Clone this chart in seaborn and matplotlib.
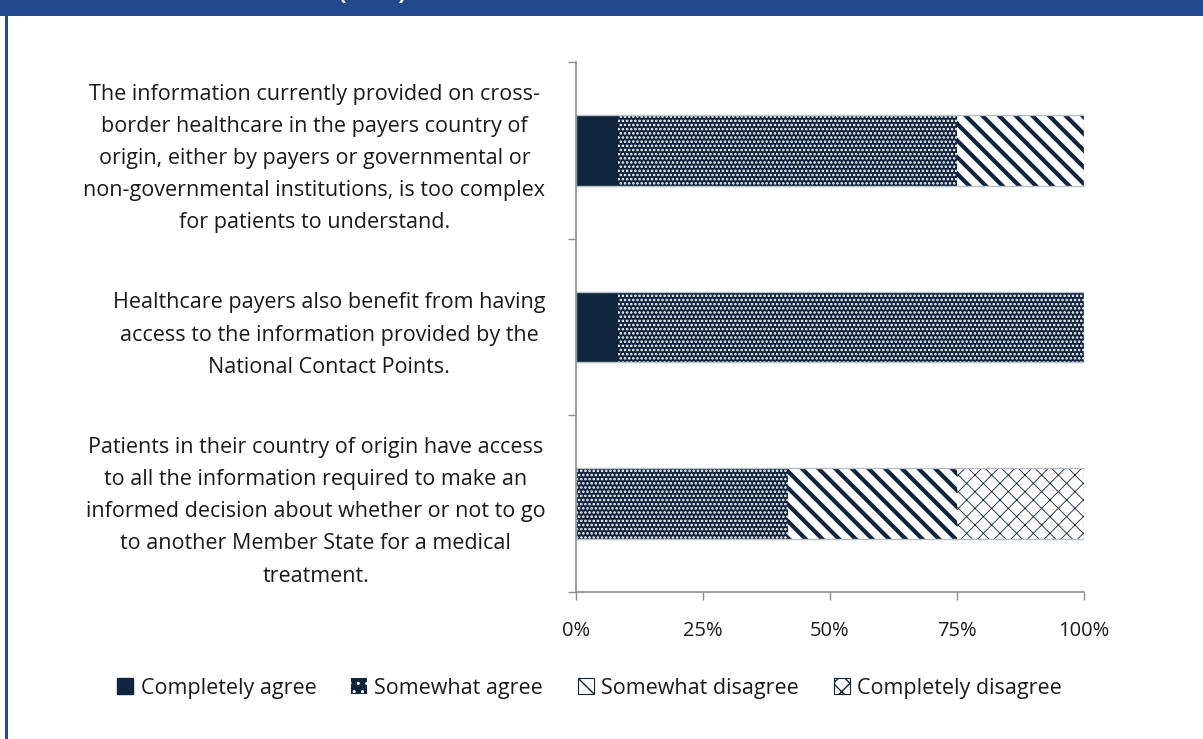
import matplotlib
matplotlib.use('Agg')
import matplotlib.pyplot as plt
from matplotlib.patches import Patch, Rectangle
import seaborn as sns
import pandas as pd

# --- data (shares of respondents, %) ---
statements = [
    "The information currently provided on cross-\nborder healthcare in the payers country of\n"
    "origin, either by payers or governmental or\nnon-governmental institutions, is too complex\n"
    "for patients to understand.",
    "Healthcare payers also benefit from having\naccess to the information provided by the\n"
    "National Contact Points.",
    "Patients in their country of origin have access\nto all the information required to make an\n"
    "informed decision about whether or not to go\nto another Member State for a medical\ntreatment.",
]
answers = ["Completely agree", "Somewhat agree", "Somewhat disagree", "Completely disagree"]
completely_agree = [8.33, 8.33, 0.0]
somewhat_agree = [66.67, 91.67, 41.67]
somewhat_disagree = [25.0, 0.0, 33.33]
completely_disagree = [0.0, 0.0, 25.0]
xticks = [0, 25, 50, 75, 100]

NAVY = '#10243E'
BLUE = '#234A8E'
GREY = '#8C8C8C'
TXT = '#1a1a1a'

df = pd.DataFrame({
    'statement': statements,
    answers[0]: completely_agree,
    answers[1]: somewhat_agree,
    answers[2]: somewhat_disagree,
    answers[3]: completely_disagree,
})
# cumulative ends, drawn back to front
cum = df[answers].cumsum(axis=1)

sns.set_style('white')
plt.rcParams['font.family'] = ['Open Sans', 'DejaVu Sans']

fig = plt.figure(figsize=(12.03, 7.39), dpi=100)
ax = fig.add_axes([0.4788, 0.1989, 0.9011 - 0.4788, 0.9161 - 0.1989])

# (face, hatch, hatch colour, hatch lw) per answer
styles = {
    answers[0]: (NAVY, None, NAVY, 1.0),
    answers[1]: (NAVY, '....', 'white', 1.2),
    answers[2]: ('white', '\\\\', NAVY, 3.0),
    answers[3]: ('white', 'xx', NAVY, 0.6),
}


def draw_layer(values, face, hatch, hcolor, fill=True):
    n0 = len(ax.patches)
    sns.barplot(x=values, y=df['statement'], orient='h', width=0.4, ax=ax,
                color=NAVY, saturation=1)
    for p in ax.patches[n0:]:
        p.set_fill(fill)
        p.set_facecolor(face)
        p.set_edgecolor(hcolor)
        p.set_linewidth(0)
        if hatch:
            p.set_hatch(hatch)


for ans in reversed(answers):
    face, hatch, hcolor, hlw = styles[ans]
    plt.rcParams['hatch.linewidth'] = hlw
    if ans == answers[1]:
        # navy base, then white dot pattern on top
        draw_layer(cum[ans], NAVY, None, NAVY)
        draw_layer(cum[ans], 'none', hatch, 'white', fill=False)
    else:
        draw_layer(cum[ans], face, hatch, hcolor)

# light outline round each full bar
n0 = len(ax.patches)
sns.barplot(x=cum[answers[-1]], y=df['statement'], orient='h', width=0.4, ax=ax,
            color='white', saturation=1)
for p in ax.patches[n0:]:
    p.set_fill(False)
    p.set_edgecolor('#B8C0CC')
    p.set_linewidth(1.0)

ax.set_xlim(0, 100)
ax.set_ylim(2.5, -0.5)
ax.set_xlabel('')
ax.set_ylabel('')
ax.set_xticks(xticks)
ax.set_xticklabels([f'{t}%' for t in xticks])
ax.set_yticks([-0.5, 0.5, 1.5, 2.5], minor=True)
ax.tick_params(axis='y', which='major', length=0, pad=22, labelsize=15.5, labelcolor=TXT)
ax.tick_params(axis='y', which='minor', length=6, width=1, color=GREY, direction='out', left=True)
ax.tick_params(axis='x', which='major', length=6, width=1, color=GREY, direction='out',
               bottom=True, pad=15, labelsize=14.5, labelcolor=TXT)
for lab in ax.get_yticklabels():
    lab.set_multialignment('center')
    lab.set_linespacing(1.7)

for s in ['top', 'right']:
    ax.spines[s].set_visible(False)
for s in ['left', 'bottom']:
    ax.spines[s].set_color(GREY)
    ax.spines[s].set_linewidth(1.2)

# legend
plt.rcParams['hatch.linewidth'] = 1.0
handles = [
    Patch(facecolor=NAVY, edgecolor=NAVY, label=answers[0]),
    Patch(facecolor=NAVY, edgecolor='white', hatch='..', linewidth=0, label=answers[1]),
    Patch(facecolor='white', edgecolor=NAVY, hatch='\\\\', linewidth=0.8, label=answers[2]),
    Patch(facecolor='white', edgecolor=NAVY, hatch='xx', linewidth=0.8, label=answers[3]),
]
fig.legend(handles=handles, loc='center', bbox_to_anchor=(0.49, 0.069), ncol=4,
           frameon=False, fontsize=15.5, handlelength=0.75, handleheight=0.75,
           handletextpad=0.35, columnspacing=1.6, labelcolor=TXT)

# header band and left border
fig.patches.append(Rectangle((0, 1 - 16 / 739), 1, 16 / 739, transform=fig.transFigure,
                             facecolor=BLUE, edgecolor='none', zorder=0))
fig.patches.append(Rectangle((5 / 1203, 0), 3 / 1203, 1, transform=fig.transFigure,
                             facecolor=BLUE, edgecolor='none', zorder=0))
fig.text(372 / 1203, 1 + 1 / 739, '(n=12)', color='white', fontsize=16, fontweight='bold',
         ha='center', va='baseline')

fig.savefig('out.png', dpi=100)
